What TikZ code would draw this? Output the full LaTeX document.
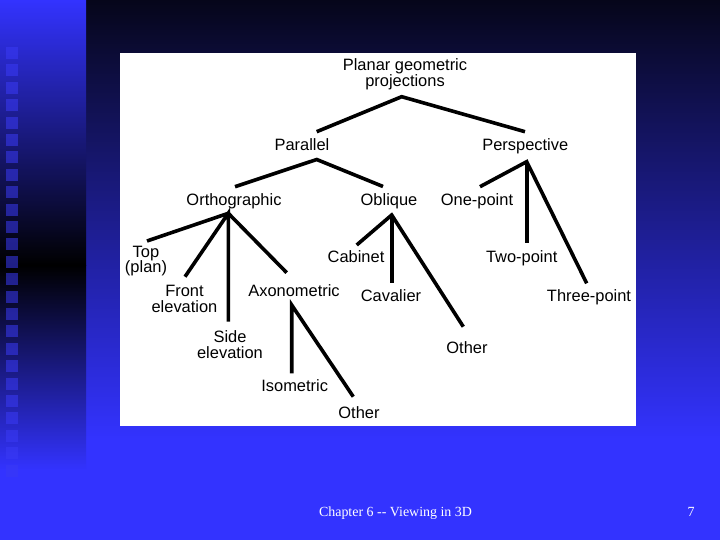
\documentclass[tikz,border=0pt]{standalone}
\usepackage{fontspec}
\setmainfont{Liberation Sans}
\newfontfamily\footfont{Liberation Serif}
\definecolor{slideblue}{HTML}{3333FF}
\definecolor{topdark}{HTML}{06061A}
\definecolor{sqblue}{HTML}{3A3AF5}
\begin{document}
\begin{tikzpicture}[x=1bp,y=-1bp,
  lbl/.style={font=\fontsize{16.5}{16}\selectfont, align=center, inner sep=0pt, text=black},
  lblb/.style={lbl, anchor=base},
  lbln/.style={lbl, anchor=north},
  edge/.style={line width=3.6bp, black, line join=miter},
  foot/.style={font=\footfont\fontsize{14}{16}\selectfont, text=white, inner sep=0pt, anchor=base}]
\useasboundingbox (0,0) rectangle (720,540);
% background
\fill[slideblue] (0,0) rectangle (720,540);
\shade[top color=topdark, bottom color=slideblue] (86,0) rectangle (720,440);
\shade[top color=slideblue, bottom color=black] (0,0) rectangle (86,265);
\shade[top color=black, bottom color=slideblue] (0,265) rectangle (86,470);
\foreach \i in {0,...,24} {
  \fill[sqblue, opacity=0.55] (6,{47+17.4*\i}) rectangle (18,{59+17.4*\i});
}
% white panel
\fill[white] (120,53) rectangle (636,426);
% labels
\node[lbln] (root) at (405,58.2) {Planar geometric\\projections};
\node[lblb] (par) at (302,151) {Parallel};
\node[lblb] (persp) at (525.3,151) {Perspective};
\node[lblb] (orth) at (234,206) {Orthographic};
\node[lblb] (obl) at (389,206) {Oblique};
\node[lblb] (one) at (477,206) {One-point};
\node[lbln] (top) at (146,245.5) {Top\\(plan)};
\node[lblb] (cab) at (356,263) {Cabinet};
\node[lblb] (two) at (521.7,263) {Two-point};
\node[lbln] (front) at (184.5,285) {Front\\elevation};
\node[lblb] (axo) at (294,296.7) {Axonometric};
\node[lblb] (cav) at (391,301.7) {Cavalier};
\node[lblb] (three) at (589,301.7) {Three-point};
\node[lbln] (side) at (230,330) {Side\\elevation};
\node[lblb] (oth1) at (467,353.3) {Other};
\node[lblb] (iso) at (294.7,391.7) {Isometric};
\node[lblb] (oth2) at (359,418) {Other};
% connector end points
\coordinate (root-b) at (401.7,96.7);
\coordinate (par-t) at (316.7,131.7);
\coordinate (persp-t) at (525,131.7);
\coordinate (par-b) at (316.7,159.5);
\coordinate (orth-t) at (235,186.7);
\coordinate (obl-t) at (383,186.5);
\coordinate (persp-b) at (526.7,161.7);
\coordinate (one-t) at (480,186.7);
\coordinate (two-t) at (526.7,243.3);
\coordinate (three-t) at (586.7,283.3);
\coordinate (orth-b) at (228.3,213.3);
\coordinate (top-t) at (147,241);
\coordinate (front-t) at (185,276.7);
\coordinate (side-t) at (228.3,321.7);
\coordinate (axo-t) at (286.7,272.7);
\coordinate (obl-b) at (391.7,215);
\coordinate (cab-t) at (356.7,245);
\coordinate (cav-t) at (391.7,283.3);
\coordinate (oth1-t) at (463.3,326.7);
\coordinate (axo-b) at (291.7,305);
\coordinate (iso-t) at (291.7,373.3);
\coordinate (oth2-t) at (353.3,396.7);
% connectors
\draw[edge] (par-t) -- (root-b) -- (persp-t);
\draw[edge] (orth-t) -- (par-b) -- (obl-t);
\draw[edge] (one-t) -- (persp-b) -- (three-t);
\draw[edge] (persp-b) -- (two-t);
\draw[edge] (top-t) -- (orth-b) -- (axo-t);
\draw[edge] (front-t) -- (orth-b) -- (side-t);
\draw[edge] (cab-t) -- (obl-b) -- (oth1-t);
\draw[edge] (obl-b) -- (cav-t);
\draw[edge] (iso-t) -- (axo-b) -- (oth2-t);
% footer
\node[foot] (footer) at (395.5,516) {Chapter 6 -{}- Viewing in 3D};
\node[foot] (pagenum) at (691,516) {7};
\end{tikzpicture}
\end{document}
